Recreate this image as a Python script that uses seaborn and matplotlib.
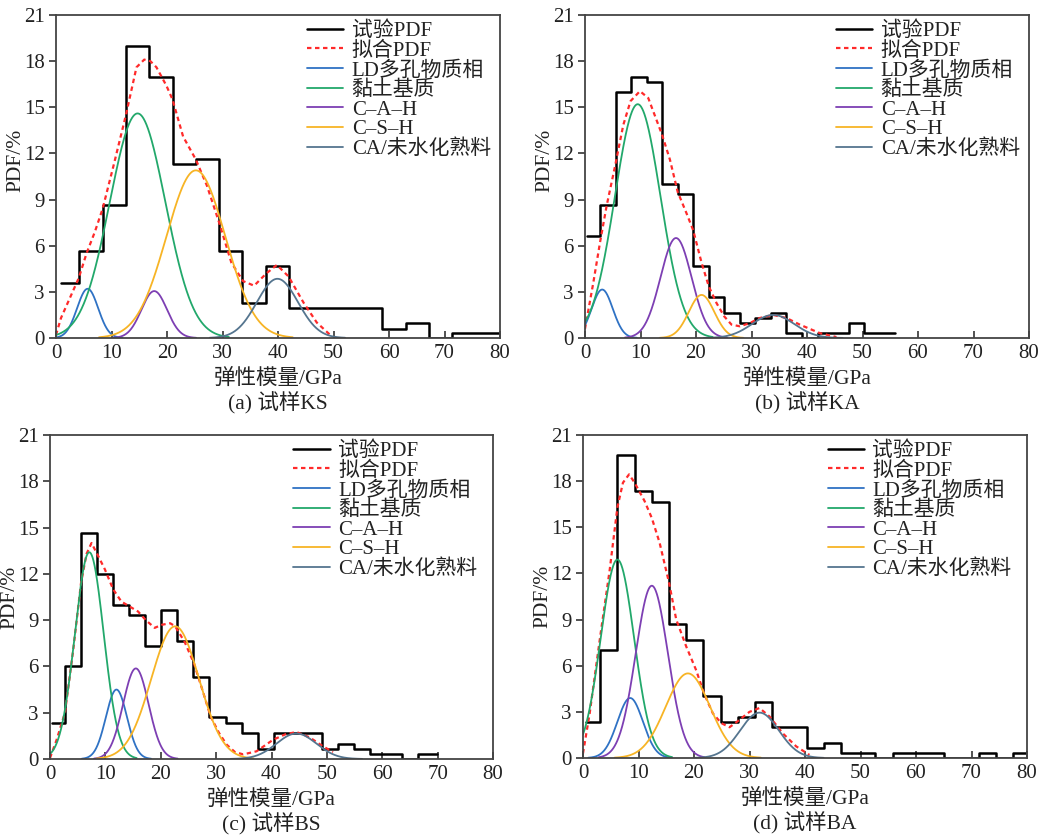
import numpy as np
import pandas as pd
import matplotlib
matplotlib.use("Agg")
import matplotlib.pyplot as plt
import seaborn as sns

sns.set_theme(style="white")
FONT = ["Liberation Serif", "Noto Sans CJK SC", "DejaVu Sans"]
plt.rcParams["font.family"] = FONT
plt.rcParams["axes.unicode_minus"] = False

# ---------------- data ----------------
legend_labels = ["试验PDF", "拟合PDF", "LD多孔物质相", "黏土基质", "C–A–H", "C–S–H", "CA/未水化熟料"]
comp_colors = ["#2f72c4", "#22a86b", "#7d3fb3", "#f7b425", "#55758f"]
captions = ["(a) 试样KS", "(b) 试样KA", "(c) 试样BS", "(d) 试样BA"]
x_ticks = [0, 10, 20, 30, 40, 50, 60, 70, 80]
y_ticks = [0, 3, 6, 9, 12, 15, 18, 21]

# histogram bin edges and heights (PDF %)
edges_a = [0.9, 4.2, 8.4, 12.6, 16.8, 21.0, 25.2, 29.4, 33.6, 37.8, 42.0, 46.2, 50.4, 54.6,
           58.8, 63.0, 67.2, 71.4, 75.6, 80.0]
heights_a = [3.6, 5.65, 8.65, 19.0, 17.0, 11.3, 11.65, 5.65, 2.3, 4.65, 1.95, 1.95, 1.95, 1.95,
             0.6, 0.98, 0.0, 0.3, 0.3]

edges_b = [0.3, 2.7, 5.5, 8.3, 11.1, 13.9, 16.7, 19.5, 22.3, 25.1, 27.9, 30.7, 33.5, 36.3,
           39.1, 41.9, 44.7, 47.5, 50.3, 53.1, 55.9]
heights_b = [6.65, 8.66, 16.0, 17.0, 16.67, 10.0, 9.35, 4.65, 2.66, 1.62, 0.97, 1.3, 1.62, 0.32,
             0.0, 0.32, 0.32, 0.97, 0.32, 0.32]

edges_c = [0.4, 2.7, 5.6, 8.5, 11.4, 14.3, 17.2, 20.1, 23.0, 25.9, 28.8, 31.7, 34.6, 37.5,
           40.4, 43.3, 46.2, 49.1, 52.0, 54.9, 57.8, 60.7, 63.6, 66.5, 69.8]
heights_c = [2.33, 6.0, 14.65, 12.0, 10.0, 9.35, 7.35, 9.67, 7.68, 5.3, 2.7, 2.33, 1.68, 0.67,
             1.68, 1.68, 1.68, 0.67, 1.0, 0.67, 0.33, 0.33, 0.0, 0.33]

edges_d = [0.6, 3.1, 6.2, 9.3, 12.4, 15.5, 18.6, 21.7, 24.8, 27.9, 31.0, 34.1, 37.2, 40.3,
           43.4, 46.5, 49.6, 52.7, 55.8, 58.9, 62.0, 65.1, 68.2, 71.3, 74.4, 77.5, 80.0]
heights_d = [2.32, 7.0, 19.7, 17.35, 16.67, 8.7, 7.7, 4.0, 2.32, 2.66, 3.66, 2.0, 2.0, 0.65,
             0.97, 0.32, 0.32, 0.0, 0.32, 0.32, 0.32, 0.0, 0.0, 0.32, 0.0, 0.32]

# fitted PDF (red dashed)
fit_x_a = [0.0, 0.9, 2.5, 4.1, 5.5, 7.0, 8.4, 10.5, 12.6, 14.5, 15.9, 17.0, 18.1, 19.9, 21.0,
           22.9, 25.2, 27.2, 29.4, 31.6, 33.7, 35.7, 37.9, 39.8, 41.9, 44.6, 47.0, 49.4]
fit_y_a = [0.2, 1.3, 2.6, 3.9, 5.5, 6.9, 8.4, 11.4, 14.5, 17.6, 18.1, 18.0, 17.6, 16.4, 15.5,
           13.1, 11.6, 9.9, 7.5, 4.9, 3.7, 3.4, 4.2, 4.75, 4.0, 2.3, 1.0, 0.2]

fit_x_b = [0.0, 1.5, 2.7, 3.9, 5.4, 6.9, 8.2, 9.9, 11.4, 13.9, 15.3, 16.7, 18.3, 19.5, 21.0,
           22.3, 23.7, 25.1, 26.4, 27.9, 29.7, 31.5, 33.9, 36.3, 38.7, 42.3, 45.3]
fit_y_b = [0.6, 3.6, 6.2, 8.6, 11.15, 13.85, 15.4, 16.05, 15.6, 13.2, 11.6, 9.5, 8.1, 7.0, 4.9,
           3.36, 2.27, 1.4, 0.87, 0.76, 0.97, 1.3, 1.5, 1.3, 0.87, 0.32, 0.06]

fit_x_c = [0.0, 1.2, 2.7, 4.2, 5.6, 6.6, 7.5, 8.5, 9.9, 11.4, 12.9, 14.3, 15.9, 17.3, 18.9,
           20.2, 21.7, 22.6, 24.3, 26.0, 27.5, 29.0, 30.5, 31.9, 33.4, 34.9, 37.3, 40.3, 42.5,
           44.5, 46.9, 49.3, 51.1]
fit_y_c = [0.06, 1.25, 3.0, 7.1, 11.4, 13.3, 14.0, 13.3, 12.3, 11.0, 10.2, 9.9, 9.56, 9.0, 8.5,
           8.7, 8.8, 8.6, 7.6, 6.2, 4.5, 2.76, 1.7, 0.93, 0.45, 0.3, 0.5, 1.25, 1.6,
           1.75, 1.4, 0.82, 0.45]

fit_x_d = [0.0, 1.2, 3.1, 4.8, 6.2, 7.2, 8.3, 9.3, 11.1, 12.4, 13.8, 15.5, 16.8, 18.6, 20.4,
           21.8, 23.4, 24.9, 26.4, 27.9, 30.0, 31.8, 33.6, 36.0, 38.4, 40.8]
fit_y_d = [0.3, 2.9, 7.9, 12.2, 16.3, 17.9, 18.44, 17.9, 16.7, 15.6, 14.0, 11.4, 9.0, 7.25, 5.7,
           4.2, 2.9, 2.27, 2.0, 2.4, 3.0, 3.25, 2.7, 1.6, 0.76, 0.2]

# fitted components: peak position (GPa), peak height (%), width (GPa)
# order: LD, clay, C-A-H, C-S-H, CA
peak_pos_a = [5.7, 14.7, 17.7, 25.2, 39.9]
peak_h_a = [3.2, 14.6, 3.05, 10.9, 3.85]
width_a = [1.9, 5.0, 2.3, 5.3, 3.7]

peak_pos_b = [3.1, 9.5, 16.4, 21.0, 33.9]
peak_h_b = [3.15, 15.2, 6.5, 2.8, 1.5]
width_b = [1.9, 4.1, 2.8, 2.3, 3.8]

peak_pos_c = [12.0, 7.1, 15.5, 22.6, 44.5]
peak_h_c = [4.5, 13.4, 5.87, 8.6, 1.65]
width_c = [1.9, 2.6, 2.3, 4.3, 3.6]

peak_pos_d = [8.5, 6.2, 12.4, 18.9, 31.8]
peak_h_d = [3.9, 12.9, 11.2, 5.5, 2.95]
width_d = [2.3, 3.0, 2.9, 4.0, 3.5]

panels = [
    (edges_a, heights_a, fit_x_a, fit_y_a, peak_pos_a, peak_h_a, width_a),
    (edges_b, heights_b, fit_x_b, fit_y_b, peak_pos_b, peak_h_b, width_b),
    (edges_c, heights_c, fit_x_c, fit_y_c, peak_pos_c, peak_h_c, width_c),
    (edges_d, heights_d, fit_x_d, fit_y_d, peak_pos_d, peak_h_d, width_d),
]

# axes rectangles in figure pixels (left, top, right, bottom)
W, H = 1049, 839
rects_px = [(56, 15, 500, 338), (585, 15, 1029, 338), (50, 435, 493, 759), (583, 435, 1027, 758)]
legend_x = [0.565, 0.565, 0.549, 0.551]

fig = plt.figure(figsize=(W / 100, H / 100), dpi=100)

FS = 15
FSL = 15
TXT = "#222222"
for i, (edges, heights, fx, fy, mu, amp, sig) in enumerate(panels):
    l, t, r, b = rects_px[i]
    ax_h = b - t
    ax = fig.add_axes([l / W, 1 - b / H, (r - l) / W, ax_h / H])
    e = np.array(edges, dtype=float)
    centers = ((e[:-1] + e[1:]) / 2).tolist()
    df = pd.DataFrame({"x": centers, "w": list(heights)})
    sns.histplot(data=df, x="x", weights="w", bins=list(edges), element="step", fill=False,
                 color="black", linewidth=1.8, ax=ax, label=legend_labels[0])

    sns.lineplot(x=fx, y=fy, color="#ff2a2a", linewidth=1.6, sort=False,
                 linestyle=(0, (2, 1.6)), ax=ax, label=legend_labels[1])

    grid = np.linspace(0, 80, 1601)
    for k, (m, a, s) in enumerate(zip(mu, amp, sig)):
        mk = (grid >= max(0, m - 3.3 * s)) & (grid <= m + 3.3 * s)
        g = grid[mk]
        y = a * np.exp(-(g - m) ** 2 / (2 * s ** 2))
        sns.lineplot(x=g, y=y, color=comp_colors[k], linewidth=1.3,
                     ax=ax, label=legend_labels[k + 2])

    ax.set_xlim(0, 80)
    ax.set_ylim(0, 21)
    ax.set_xticks(x_ticks)
    ax.set_yticks(y_ticks)
    ax.tick_params(axis="x", direction="in", length=5, width=1.2, colors="#333333",
                   labelsize=FS, labelcolor=TXT, pad=4)
    ax.tick_params(axis="y", direction="out", length=5, width=1.2, colors="#333333",
                   labelsize=FS, labelcolor=TXT, pad=3)
    ax.tick_params(bottom=True, left=True, top=False, right=False)
    for sp in ax.spines.values():
        sp.set_color("#444444")
        sp.set_linewidth(1.3)
    ax.set_xlabel("弹性模量/GPa", fontsize=FS + 0.5, color=TXT)
    ax.xaxis.set_label_coords(0.5, -41 / ax_h)
    ax.xaxis.label.set_va("center")
    ax.set_ylabel("PDF/%", fontsize=FS + 0.5, color=TXT)
    ax.yaxis.set_label_coords(-31 / (r - l), 0.55 if i < 2 else 0.5)
    ax.text(0.5, -65 / ax_h, captions[i], transform=ax.transAxes, ha="center", va="center",
            fontsize=FS + 0.5, color=TXT)

    handles, labels = ax.get_legend_handles_labels()
    leg = ax.legend(handles, labels, loc="upper left", bbox_to_anchor=(legend_x[i], 0.98),
                    frameon=False, fontsize=FSL, labelspacing=0.0, handlelength=1.75,
                    handletextpad=0.4, borderpad=0.0, borderaxespad=0.0)
    for txt in leg.get_texts():
        txt.set_color(TXT)

fig.savefig("out.png", dpi=100)
